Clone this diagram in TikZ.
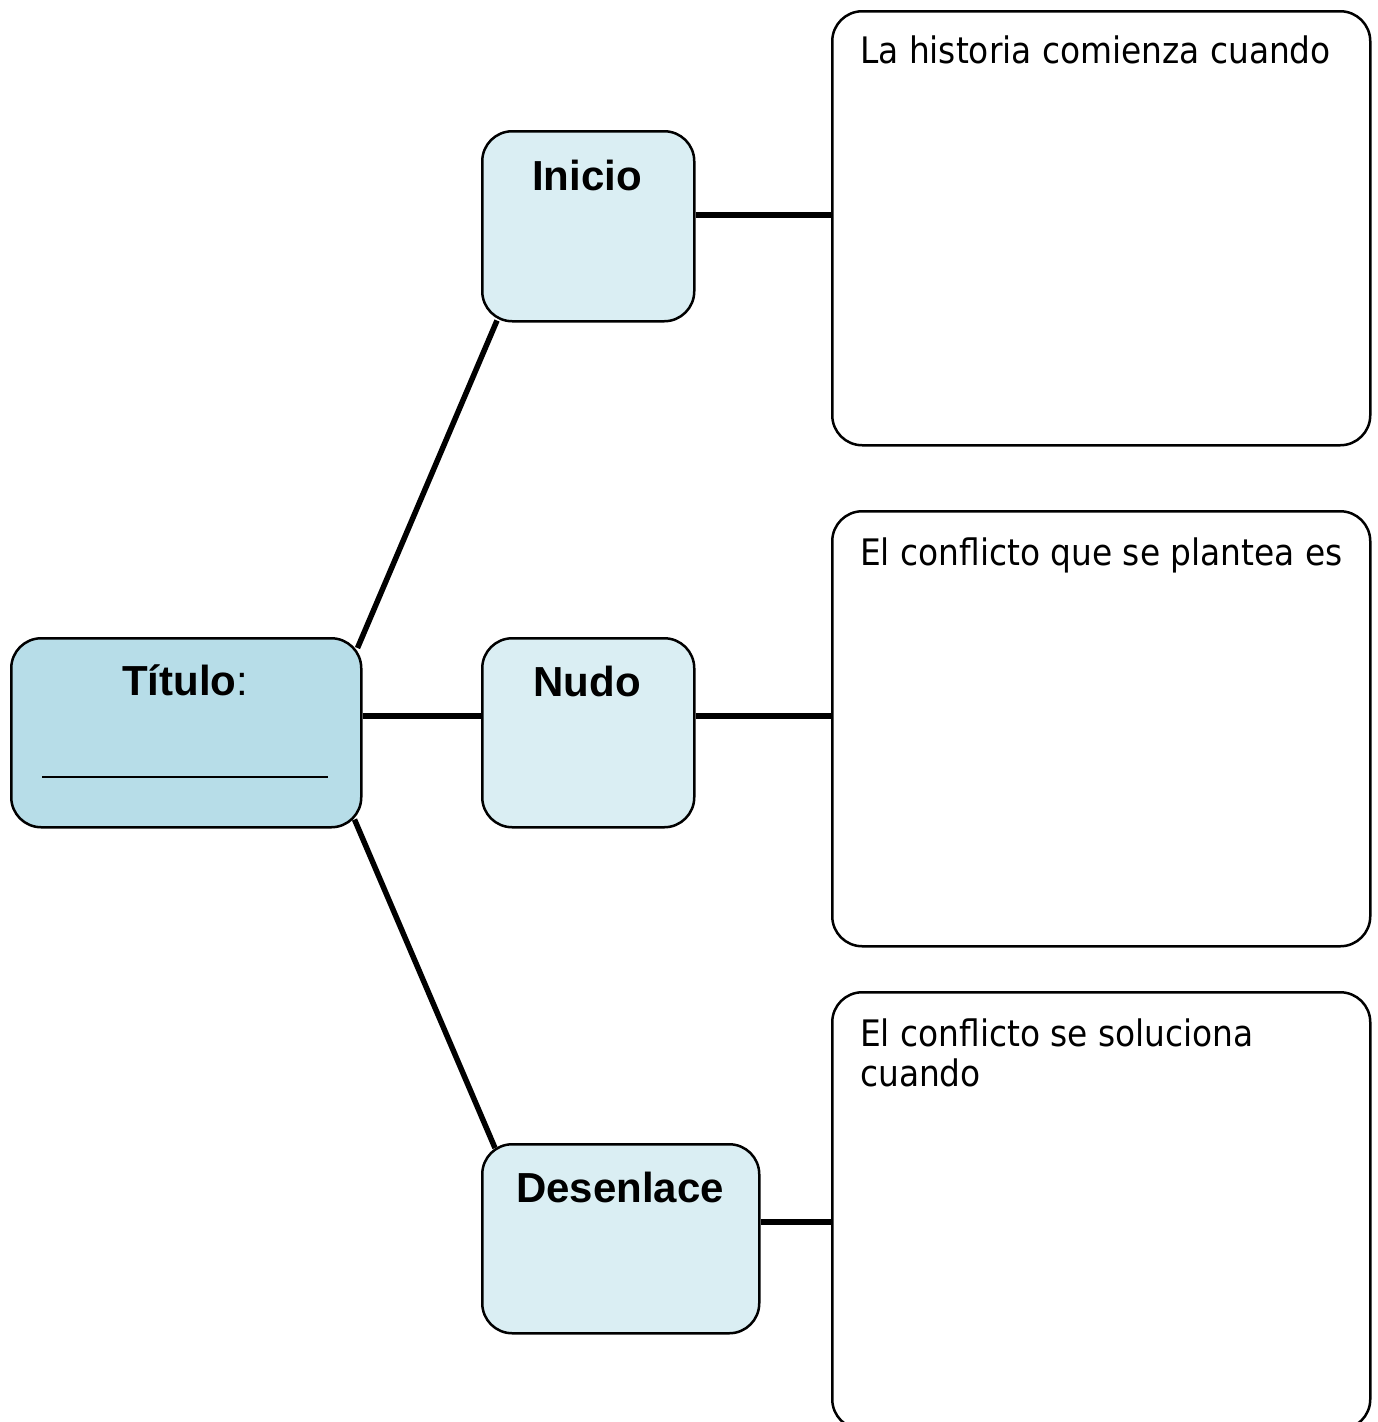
\documentclass[tikz,border=0pt]{standalone}
\usepackage{fontspec}
\setmainfont{Liberation Sans}
\newfontfamily\tahoma{DejaVu Sans Condensed}
\usetikzlibrary{backgrounds}
\definecolor{titlefill}{HTML}{B7DDE8}
\definecolor{partfill}{HTML}{DAEEF3}
\tikzset{
  box/.style={draw=black, line width=2.5pt, rounded corners=30pt, anchor=north west, inner sep=0pt},
  titlebox/.style={box, fill=titlefill},
  partbox/.style={box, fill=partfill},
  textbox/.style={box, fill=white},
  conn/.style={draw=black, line width=5.5pt},
  lbl/.style={anchor=base, inner sep=0pt, font=\fontsize{42}{48}\selectfont\bfseries},
  txt/.style={anchor=base west, inner sep=0pt, align=left, font=\tahoma\fontsize{36.5}{40}\selectfont}
}
\begin{document}
\begin{tikzpicture}[x=1pt,y=-1pt]
\useasboundingbox (0,0) rectangle (1377,1422);
% boxes
\node[titlebox, minimum width=350pt, minimum height=189pt] (titulo) at (10,637) {};
\node[partbox, minimum width=212pt, minimum height=190pt] (inicio) at (481,130) {};
\node[partbox, minimum width=212pt, minimum height=189pt] (nudo) at (481,637) {};
\node[partbox, minimum width=277pt, minimum height=189pt] (desenlace) at (481,1143) {};
\node[textbox, minimum width=538pt, minimum height=434pt] (b1) at (831,10) {};
\node[textbox, minimum width=538pt, minimum height=435pt] (b2) at (831,510) {};
\node[textbox, minimum width=538pt, minimum height=437pt] (b3) at (831,991) {};
% labels
\node[lbl] (tt) at (185,695) {Título\mdseries:};
\draw[line width=2pt] (42,777) coordinate (u1) -- (328,777) coordinate (u2);
\node[lbl] (it) at (587,190) {Inicio};
\node[lbl] (nt) at (587,696) {Nudo};
\node[lbl] (dt) at (620,1202) {Desenlace};
\node[txt] (t1) at (860,63) {La historia comienza cuando};
\node[txt] (t2) at (860,565) {El conflicto que se plantea es};
\node[txt] (t3) at (860,1086) {El conflicto se soluciona\\cuando};
% connectors
\coordinate (y1) at (0,215);
\coordinate (y2) at (0,716);
\coordinate (y3) at (0,1222);
\begin{scope}[on background layer]
\draw[conn] (inicio.east |- y1) -- (b1.west |- y1);
\draw[conn] (titulo.east |- y2) -- (nudo.west |- y2);
\draw[conn] (nudo.east |- y2) -- (b2.west |- y2);
\draw[conn] (desenlace.east |- y3) -- (b3.west |- y3);
\draw[conn] ([shift={(-5,11)}]titulo.north east) -- ([shift={(16,-2)}]inicio.south west);
\draw[conn] ([shift={(-8,-9)}]titulo.south east) -- ([shift={(14,5)}]desenlace.north west);
\end{scope}
\end{tikzpicture}
\end{document}
